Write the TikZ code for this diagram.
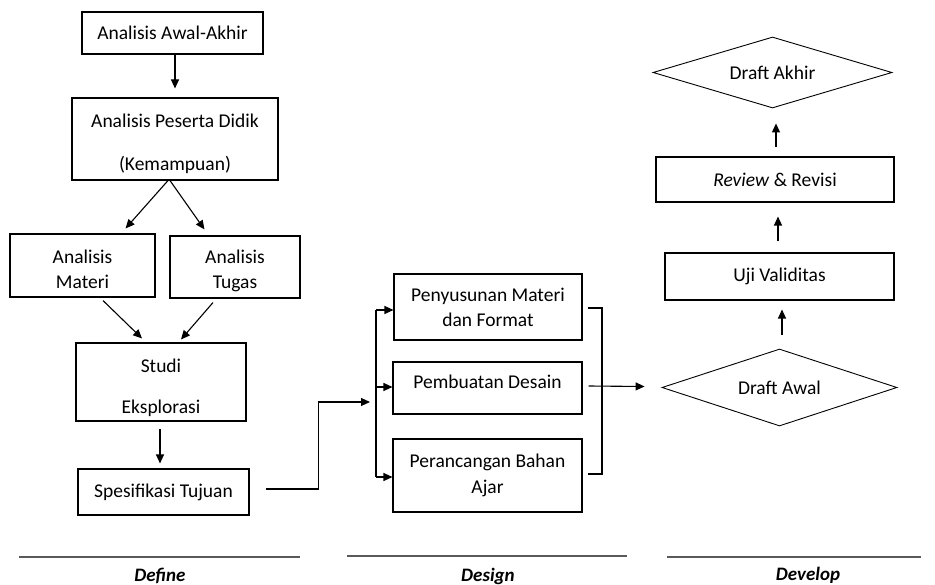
\documentclass[tikz,border=0pt]{standalone}
\usepackage{fontspec}
\setmainfont{Carlito}
\usetikzlibrary{arrows.meta,shapes.geometric,calc}
\newcommand\lowr[2]{\raisebox{0pt}[\dimexpr\height+#1\relax][\depth]{\begin{tabular}{@{}c@{}}#2\end{tabular}}}
\newcommand\uppr[2]{\raisebox{0pt}[\height][\dimexpr\depth+#1\relax]{\begin{tabular}{@{}c@{}}#2\end{tabular}}}
\begin{document}
\begin{tikzpicture}[x=1pt,y=-1pt,
  every node/.style={font=\fontsize{19.5}{25}\selectfont},
  box/.style={draw, line width=1.1pt, rectangle, inner sep=0pt, align=center},
  dia/.style={draw, line width=0.9pt, diamond, aspect=3, inner sep=0pt, align=center},
  arr/.style={line width=1.1pt, -{Triangle[length=9pt,width=8pt]}},
  ln/.style={line width=1.1pt},
  phase/.style={line width=1.4pt, draw=black!65},
  plab/.style={font=\fontsize{19}{22}\selectfont\bfseries\itshape, anchor=base}]
\useasboundingbox (0,0) rectangle (935,585);
% Define column
\node[box, minimum width=181pt, minimum height=42pt] (aa) at (172.5,33) {Analisis Awal-Akhir};
\node[box, minimum width=206pt, minimum height=82pt] (pd) at (175,139) {\lowr{10pt}{Analisis Peserta Didik\\[18pt](Kemampuan)}};
\node[box, minimum width=145pt, minimum height=63pt] (mat) at (82.5,265.5) {\lowr{12pt}{Analisis\\Materi}};
\node[box, minimum width=130pt, minimum height=62pt] (tug) at (235,267) {\lowr{8pt}{Analisis\\Tugas}};
\node[box, minimum width=170pt, minimum height=78pt] (stu) at (161,382) {\lowr{12pt}{Studi\\[16pt]Eksplorasi}};
\node[box, minimum width=171pt, minimum height=46pt] (spe) at (163.5,492) {Spesifikasi Tujuan};
% Design column
\node[box, minimum width=188pt, minimum height=66pt] (p1) at (488,307) {\lowr{4pt}{Penyusunan Materi\\dan Format}};
\node[box, minimum width=189pt, minimum height=52pt] (p2) at (487.5,388) {\uppr{8pt}{Pembuatan Desain}};
\node[box, minimum width=189pt, minimum height=73pt] (p3) at (487.5,475.5) {Perancangan Bahan\\[1pt]Ajar};
% Develop column
\node[dia, minimum width=239pt, minimum height=71pt] (dak) at (772.5,72.5) {Draft Akhir};
\node[box, minimum width=238pt, minimum height=45pt] (rev) at (775,179.5) {\textit{Review} \& Revisi};
\node[box, minimum width=229pt, minimum height=47pt] (uji) at (779.5,276.5) {Uji Validitas};
\node[dia, minimum width=235pt, minimum height=77pt] (daw) at (779.5,387.5) {Draft Awal};
% Define arrows
\draw[arr, shorten >=9pt] ([xshift=2.5pt]aa.south) -- ([xshift=2.5pt]aa.south |- pd.north);
\draw[arr] ([xshift=-7pt]pd.south) -- ($(mat.north east)+(-30,-5)$);
\draw[arr] ([xshift=-5pt]pd.south) -- ($(tug.north west)+(35,-6)$);
\draw[arr] ($(mat.south)+(20.5,3)$) -- ($(stu.north)+(-19,-4)$);
\draw[arr] ($(tug.south)+(-22,4)$) -- ($(stu.north)+(20,-3)$);
\draw[arr, shorten <=7pt, shorten >=5pt] ([xshift=-1pt]stu.south) -- ([xshift=-1pt]stu.south |- spe.north);
% Define -> Design
\coordinate (jin) at (370,402);
\coordinate (lt) at (376,310);
\coordinate (lm) at (376,387);
\coordinate (lb) at (376,477);
\draw[arr] ($(spe.east)+(16,-3)$) -- ++(53,0) |- (jin);
\draw[ln] (lt) -- (lb);
\draw[arr] (lt) -- (lt -| p1.west);
\draw[arr] (lm) -- (lm -| p2.west);
\draw[arr] (lb) -- (lb -| p3.west);
% Design -> Develop
\coordinate (rt) at (602,308);
\coordinate (rb) at (602,474);
\draw[ln] ($(p1.east)+(5,1)$) -- (rt) -- (rb) -- ($(p3.east |- rb)+(5,0)$);
\draw[arr] ($(p2.east)+(6,-2)$) -- ($(daw.west)+(-17,-1)$);
% Develop arrows
\draw[arr, shorten <=14pt, shorten >=9pt] ([xshift=2.5pt]daw.north) -- ([xshift=2.5pt]daw.north |- uji.south);
\draw[arr, shorten <=11pt, shorten >=14pt] ([xshift=-1.5pt]uji.north) -- ([xshift=-1.5pt]uji.north |- rev.south);
\draw[arr, shorten <=9pt, shorten >=15pt] ([xshift=1pt]rev.north) -- ([xshift=1pt]rev.north |- dak.south);
% Phase lines and labels
\coordinate (d1) at (19,557); \coordinate (d2) at (300,557);
\coordinate (e1) at (347,556); \coordinate (e2) at (627,556);
\coordinate (v1) at (667,557); \coordinate (v2) at (921,557);
\draw[phase] (d1) -- (d2);
\draw[phase] (e1) -- (e2);
\draw[phase] (v1) -- (v2);
\node[plab] (ldef) at (160,581) {Define};
\node[plab] (ldes) at (488,581) {Design};
\node[plab] (ldev) at (808,580) {Develop};
\end{tikzpicture}
\end{document}
